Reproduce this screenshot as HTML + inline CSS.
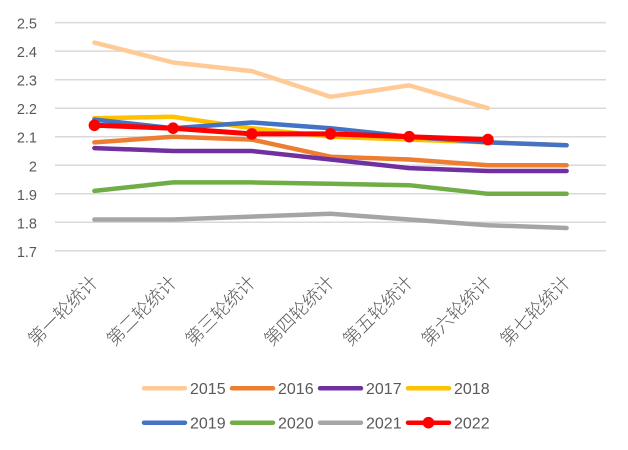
<!DOCTYPE html>
<html><head><meta charset="utf-8"><style>
html,body{margin:0;padding:0;background:#fff;}
svg{display:block;}
.yl{font-family:"Liberation Sans",sans-serif;font-size:14.5px;fill:#595959;}
.xl{font-family:"Liberation Sans","Noto Sans CJK SC",sans-serif;font-size:18px;font-weight:300;fill:#595959;}
.lg{font-family:"Liberation Sans",sans-serif;font-size:16px;fill:#595959;}
</style></head><body>
<svg width="628" height="450" viewBox="0 0 628 450" xmlns="http://www.w3.org/2000/svg">
<rect width="628" height="450" fill="#fff"/>
<g stroke="#d9d9d9" stroke-width="1.5">
<line x1="55" x2="606" y1="22.6" y2="22.6"/>
<line x1="55" x2="606" y1="51.1" y2="51.1"/>
<line x1="55" x2="606" y1="79.7" y2="79.7"/>
<line x1="55" x2="606" y1="108.2" y2="108.2"/>
<line x1="55" x2="606" y1="136.7" y2="136.7"/>
<line x1="55" x2="606" y1="165.3" y2="165.3"/>
<line x1="55" x2="606" y1="193.8" y2="193.8"/>
<line x1="55" x2="606" y1="222.3" y2="222.3"/>
<line x1="55" x2="606" y1="250.8" y2="250.8"/>
</g>
<g class="yl" text-anchor="end">
<text x="37" y="28.6">2.5</text>
<text x="37" y="57.1">2.4</text>
<text x="37" y="85.7">2.3</text>
<text x="37" y="114.2">2.2</text>
<text x="37" y="142.7">2.1</text>
<text x="37" y="171.3">2</text>
<text x="37" y="199.8">1.9</text>
<text x="37" y="228.3">1.8</text>
<text x="37" y="256.8">1.7</text>
</g>
<g class="xl" text-anchor="end" dominant-baseline="central">
<text x="95" y="279" transform="rotate(-45 95 279)">第一轮统计</text>
<text x="173.7" y="279" transform="rotate(-45 173.7 279)">第二轮统计</text>
<text x="252.4" y="279" transform="rotate(-45 252.4 279)">第三轮统计</text>
<text x="331.1" y="279" transform="rotate(-45 331.1 279)">第四轮统计</text>
<text x="409.8" y="279" transform="rotate(-45 409.8 279)">第五轮统计</text>
<text x="488.5" y="279" transform="rotate(-45 488.5 279)">第六轮统计</text>
<text x="567.2" y="279" transform="rotate(-45 567.2 279)">第七轮统计</text>
</g>
<g fill="none" stroke-width="4.5" stroke-linejoin="round" stroke-linecap="round">
<polyline stroke="#FFCA96" points="94.4,42.6 173.1,62.5 251.8,71.1 330.5,96.8 409.2,85.4 487.9,108.2"/>
<polyline stroke="#ED7D31" points="94.4,142.4 173.1,136.7 251.8,139.6 330.5,156.7 409.2,159.5 487.9,165.3 566.6,165.3"/>
<polyline stroke="#7030A0" points="94.4,148.1 173.1,151.0 251.8,151.0 330.5,159.5 409.2,168.1 487.9,171.0 566.6,171.0"/>
<polyline stroke="#FFC000" points="94.4,118.2 173.1,116.8 251.8,128.2 330.5,136.7 409.2,139.6 487.9,142.4 566.6,145.3"/>
<polyline stroke="#4472C4" points="94.4,119.6 173.1,128.2 251.8,122.5 330.5,128.2 409.2,136.7 487.9,142.4 566.6,145.3"/>
<polyline stroke="#70AD47" points="94.4,190.9 173.1,182.4 251.8,182.4 330.5,183.8 409.2,185.2 487.9,193.8 566.6,193.8"/>
<polyline stroke="#A5A5A5" points="94.4,219.5 173.1,219.5 251.8,216.6 330.5,213.8 409.2,219.5 487.9,225.2 566.6,228.0"/>
<polyline stroke="#FF0000" stroke-width="5" points="94.4,125.3 173.1,128.2 251.8,133.9 330.5,133.9 409.2,136.7 487.9,139.6"/>
</g>
<g fill="#FF0000">
<circle cx="94.4" cy="125.3" r="5.8"/>
<circle cx="173.1" cy="128.2" r="5.8"/>
<circle cx="251.8" cy="133.9" r="5.8"/>
<circle cx="330.5" cy="133.9" r="5.8"/>
<circle cx="409.2" cy="136.7" r="5.8"/>
<circle cx="487.9" cy="139.6" r="5.8"/>
</g>
<g stroke-width="4.5" stroke-linecap="round">
<line x1="144" x2="185" y1="388.3" y2="388.3" stroke="#FFCA96"/>
<line x1="232" x2="273" y1="388.3" y2="388.3" stroke="#ED7D31"/>
<line x1="320" x2="361" y1="388.3" y2="388.3" stroke="#7030A0"/>
<line x1="408" x2="449" y1="388.3" y2="388.3" stroke="#FFC000"/>
<line x1="144" x2="185" y1="422.7" y2="422.7" stroke="#4472C4"/>
<line x1="232" x2="273" y1="422.7" y2="422.7" stroke="#70AD47"/>
<line x1="320" x2="361" y1="422.7" y2="422.7" stroke="#A5A5A5"/>
<line x1="408" x2="449" y1="422.7" y2="422.7" stroke="#FF0000"/>
</g>
<circle cx="428.5" cy="422.7" r="5.8" fill="#FF0000"/>
<g class="lg">
<text x="190" y="394.2">2015</text>
<text x="278" y="394.2">2016</text>
<text x="366" y="394.2">2017</text>
<text x="454" y="394.2">2018</text>
<text x="190" y="428.6">2019</text>
<text x="278" y="428.6">2020</text>
<text x="366" y="428.6">2021</text>
<text x="454" y="428.6">2022</text>
</g>
</svg>
</body></html>
